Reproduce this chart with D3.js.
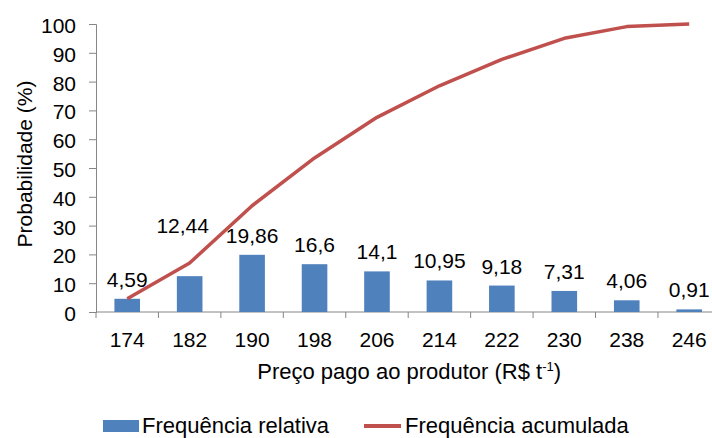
<!DOCTYPE html>
<html>
<head>
<meta charset="utf-8">
<script src="https://cdn.jsdelivr.net/npm/d3@7"></script>
<style>
  html, body { margin: 0; padding: 0; background: #fff; }
  svg { display: block; font-family: "Liberation Sans", Arial, sans-serif; }
</style>
</head>
<body>
<svg id="chart" width="712" height="438"></svg>
<script>
// Preço pago ao produtor (R$ t-1) classes
const prices = ["174", "182", "190", "198", "206", "214", "222", "230", "238", "246"];
// Frequência relativa (%)
const relFreq = [4.59, 12.44, 19.86, 16.6, 14.1, 10.95, 9.18, 7.31, 4.06, 0.91];
// Frequência acumulada (%)
const cumFreq = [4.59, 17.03, 36.89, 53.49, 67.59, 78.54, 87.72, 95.03, 99.09, 100];
// Y axis ticks
const yTicks = [0, 10, 20, 30, 40, 50, 60, 70, 80, 90, 100];

const BAR = "#4F81BD", LINE = "#C0504D", AXIS = "#868686";
const FONT = 21, TITLE_FONT = 22;

const svg = d3.select("#chart");
const plot = { left: 96, right: 720.4, top: 24, bottom: 312 };

const x = d3.scaleBand().domain(prices).range([plot.left, plot.right]).paddingInner(0.59).paddingOuter(0.295);
const xCenter = d => x(d) + x.bandwidth() / 2;
const y = d3.scaleLinear().domain([0, 100]).range([plot.bottom, plot.top]);

// Y axis
const yAxis = svg.append("g")
  .attr("transform", `translate(${plot.left},0)`)
  .call(d3.axisLeft(y).tickValues(yTicks).tickSize(7).tickPadding(13).tickFormat(d3.format("d")));
yAxis.select(".domain").attr("stroke", AXIS).attr("stroke-width", 1);
yAxis.selectAll(".tick line").attr("stroke", AXIS);
yAxis.selectAll(".tick text").attr("font-size", FONT).attr("fill", "#000").attr("dy", "0.4em")
  .attr("font-family", "Liberation Sans, Arial, sans-serif");

// X axis (tick marks at category boundaries)
const xAxisG = svg.append("g").attr("transform", `translate(0,${plot.bottom})`);
xAxisG.append("line").attr("x1", plot.left).attr("x2", plot.right)
  .attr("stroke", AXIS).attr("stroke-width", 1);
const step = x.step();
const bounds = d3.range(prices.length + 1).map(i => plot.left + i * step);
xAxisG.selectAll("line.tk").data(bounds).join("line").attr("class", "tk")
  .attr("x1", d => d).attr("x2", d => d).attr("y1", 0).attr("y2", 6)
  .attr("stroke", AXIS);
xAxisG.selectAll("text").data(prices).join("text")
  .attr("x", d => xCenter(d)).attr("y", 35)
  .attr("text-anchor", "middle").attr("font-size", FONT).text(d => d);

// Bars
svg.append("g").selectAll("rect").data(relFreq).join("rect")
  .attr("x", (d, i) => x(prices[i]))
  .attr("width", x.bandwidth())
  .attr("y", d => y(d))
  .attr("height", d => y(0) - y(d))
  .attr("fill", BAR);

// Cumulative line
const line = d3.line().x((d, i) => xCenter(prices[i])).y(d => y(d));
svg.append("path").datum(cumFreq)
  .attr("d", line).attr("fill", "none")
  .attr("stroke", LINE).attr("stroke-width", 3.5).attr("stroke-linejoin", "round");

// Bar value labels (decimal comma); the second label is lifted clear of the line
const fmt = v => String(v).replace(".", ",");
const nudge = { 1: { dx: -7, dy: -31 } };
svg.append("g").selectAll("text").data(relFreq).join("text")
  .attr("x", (d, i) => xCenter(prices[i]) + (nudge[i] ? nudge[i].dx : 0))
  .attr("y", (d, i) => y(d) - 12 + (nudge[i] ? nudge[i].dy : 0))
  .attr("text-anchor", "middle").attr("font-size", FONT).text(fmt);

// Axis titles
svg.append("text")
  .attr("transform", `translate(32,${(plot.top + plot.bottom) / 2 - 4}) rotate(-90)`)
  .attr("text-anchor", "middle").attr("font-size", FONT).text("Probabilidade (%)");

const xt = svg.append("text")
  .attr("x", (plot.left + plot.right) / 2 + 1).attr("y", 379)
  .attr("text-anchor", "middle").attr("font-size", TITLE_FONT);
xt.append("tspan").text("Preço pago ao produtor (R$ t");
xt.append("tspan").attr("font-size", 13).attr("dy", -8).text("-1");
xt.append("tspan").attr("dy", 8).text(")");

// Legend
const lg = svg.append("g");
lg.append("rect").attr("x", 103).attr("y", 420).attr("width", 36).attr("height", 12).attr("fill", BAR);
lg.append("text").attr("x", 142).attr("y", 433).attr("font-size", TITLE_FONT).text("Frequência relativa");
lg.append("line").attr("x1", 364).attr("x2", 401).attr("y1", 426).attr("y2", 426)
  .attr("stroke", LINE).attr("stroke-width", 4);
lg.append("text").attr("x", 405).attr("y", 433).attr("font-size", TITLE_FONT).text("Frequência acumulada");
</script>
</body>
</html>
